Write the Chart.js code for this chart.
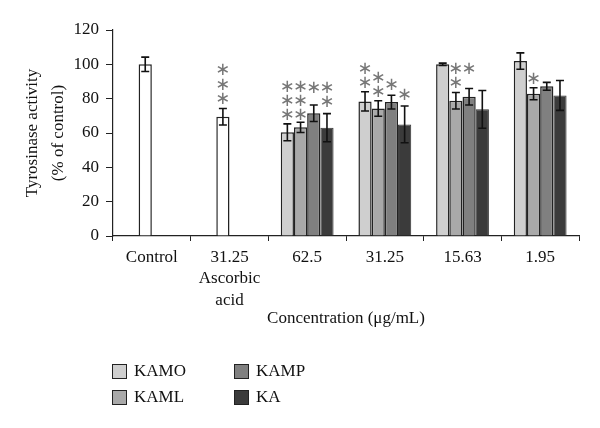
<!DOCTYPE html>
<html>
<head>
<meta charset="utf-8">
<script src="https://cdn.jsdelivr.net/npm/chart.js@4"></script>
<style>
  body { margin: 0; background: #fff; }
  #wrap { position: relative; width: 600px; height: 428px; }
  .leg { position: absolute; font: 17px 'Liberation Serif', serif; color: #111; display: flex; align-items: center; }
  .leg span.box { width: 13px; height: 13px; border: 1.5px solid #222; margin-right: 7px; }
</style>
</head>
<body>
<div id="wrap">
  <canvas id="c" width="600" height="428"></canvas>
  <div class="leg" style="left:112px;top:361px"><span class="box" style="background:#cfcfcf"></span>KAMO</div>
  <div class="leg" style="left:112px;top:387px"><span class="box" style="background:#a9a9a9"></span>KAML</div>
  <div class="leg" style="left:234px;top:361px"><span class="box" style="background:#808080"></span>KAMP</div>
  <div class="leg" style="left:234px;top:387px"><span class="box" style="background:#3b3b3b"></span>KA</div>
</div>
<script>
const labels = ['Control', ['31.25', 'Ascorbic', 'acid'], '62.5', '31.25', '15.63', '1.95'];

const control = [100, 69.5, null, null, null, null];
const kamo = [null, null, 60.4, 78.4, 100, 101.9];
const kaml = [null, null, 63.3, 74.3, 78.8, 82.9];
const kamp = [null, null, 71.5, 78, 81.1, 87.2];
const ka = [null, null, 63.1, 65, 73.8, 81.9];

const errControl = [4.2, 4.8, 0, 0, 0, 0];
const errKamo = [0, 0, 4.9, 5.6, 0.7, 4.8];
const errKaml = [0, 0, 3, 4.5, 4.8, 3.5];
const errKamp = [0, 0, 4.8, 4, 4.8, 2.3];
const errKa = [0, 0, 8.2, 10.7, 11, 8.7];

// number of asterisks and the value where the lowest one sits
const starsControl = [0, 3, 0, 0, 0, 0];
const starsKamo = [0, 0, 3, 2, 0, 0];
const starsKaml = [0, 0, 3, 2, 2, 1];
const starsKamp = [0, 0, 1, 1, 1, 0];
const starsKa = [0, 0, 2, 1, 0, 0];
const starAtControl = [0, 79.6, 0, 0, 0, 0];
const starAtKamo = [0, 0, 70.1, 88.9, 0, 0];
const starAtKaml = [0, 0, 70.1, 83.5, 88.9, 91.4];
const starAtKamp = [0, 0, 85.8, 87.9, 97.1, 0];
const starAtKa = [0, 0, 77.6, 81.7, 0, 0];

const yTicks = [0, 20, 40, 60, 80, 100, 120];

Chart.defaults.font.family = "'Liberation Serif', serif";
Chart.defaults.font.size = 17;
Chart.defaults.color = '#111';

const errorBars = {
  id: 'errorBars',
  afterDatasetsDraw(chart) {
    const ctx = chart.ctx;
    const y = chart.scales.y;
    chart.data.datasets.forEach((ds, di) => {
      const meta = chart.getDatasetMeta(di);
      meta.data.forEach((bar, i) => {
        const v = ds.data[i];
        if (v == null) return;
        const e = ds.err[i];
        const top = y.getPixelForValue(v + e);
        const bot = y.getPixelForValue(v - e);
        ctx.save();
        ctx.strokeStyle = '#111';
        ctx.lineWidth = 1.6;
        ctx.beginPath();
        ctx.moveTo(bar.x, top); ctx.lineTo(bar.x, bot);
        ctx.moveTo(bar.x - 4, top); ctx.lineTo(bar.x + 4, top);
        ctx.moveTo(bar.x - 4, bot); ctx.lineTo(bar.x + 4, bot);
        ctx.stroke();
        // asterisks
        ctx.fillStyle = '#777';
        ctx.font = "18px 'DejaVu Sans'";
        ctx.textAlign = 'center';
        ctx.textBaseline = 'middle';
        const base = y.getPixelForValue(ds.starAt[i]);
        for (let k = 0; k < ds.stars[i]; k++) {
          ctx.fillText('\u2217', bar.x, base - k * 14.3);
        }
        ctx.restore();
      });
    });
  }
};

const border = '#222';
new Chart(document.getElementById('c'), {
  type: 'bar',
  data: {
    labels: labels,
    datasets: [
      { label: 'KAMO', data: kamo, err: errKamo, stars: starsKamo, starAt: starAtKamo, stack: 'a', backgroundColor: '#cfcfcf', borderColor: border, borderWidth: 1.5 },
      { label: 'Control', data: control, err: errControl, stars: starsControl, starAt: starAtControl, stack: 'b', backgroundColor: '#ffffff', borderColor: border, borderWidth: 1.5 },
      { label: 'KAML', data: kaml, err: errKaml, stars: starsKaml, starAt: starAtKaml, stack: 'b', backgroundColor: '#a9a9a9', borderColor: border, borderWidth: 1.5 },
      { label: 'KAMP', data: kamp, err: errKamp, stars: starsKamp, starAt: starAtKamp, stack: 'c', backgroundColor: '#808080', borderColor: border, borderWidth: 1.5 },
      { label: 'KA', data: ka, err: errKa, stars: starsKa, starAt: starAtKa, stack: 'd', backgroundColor: '#3b3b3b', borderColor: '#333', borderWidth: 1 }
    ]
  },
  options: {
    responsive: false,
    animation: false,
    devicePixelRatio: 1,
    categoryPercentage: 0.68,
    barPercentage: 1,
    layout: { padding: { top: 30, right: 21, bottom: 92, left: 0 } },
    plugins: { legend: { display: false }, tooltip: { enabled: false } },
    scales: {
      x: {
        grid: { drawOnChartArea: false, tickLength: 5, color: '#222' },
        border: { color: '#222', width: 1.2 },
        ticks: { padding: 6, maxRotation: 0, autoSkip: false, font: { lineHeight: 1.25 } },
        title: { display: true, text: 'Concentration (\u03bcg/mL)', padding: { top: 0, bottom: 7 } },
        afterFit(s) { s.height = 100; }
      },
      y: {
        min: 0, max: 120,
        afterBuildTicks(s) { s.ticks = yTicks.map(v => ({ value: v })); },
        grid: { drawOnChartArea: false, tickLength: 7, color: '#222' },
        border: { color: '#222', width: 1.2 },
        ticks: { padding: 7 },
        title: { display: true, text: ['Tyrosinase activity', '(% of control)'], font: { lineHeight: 1.5 }, padding: { top: 20, bottom: 0 } },
        afterFit(s) { s.width = 113; }
      }
    }
  },
  plugins: [errorBars]
});
</script>
</body>
</html>
